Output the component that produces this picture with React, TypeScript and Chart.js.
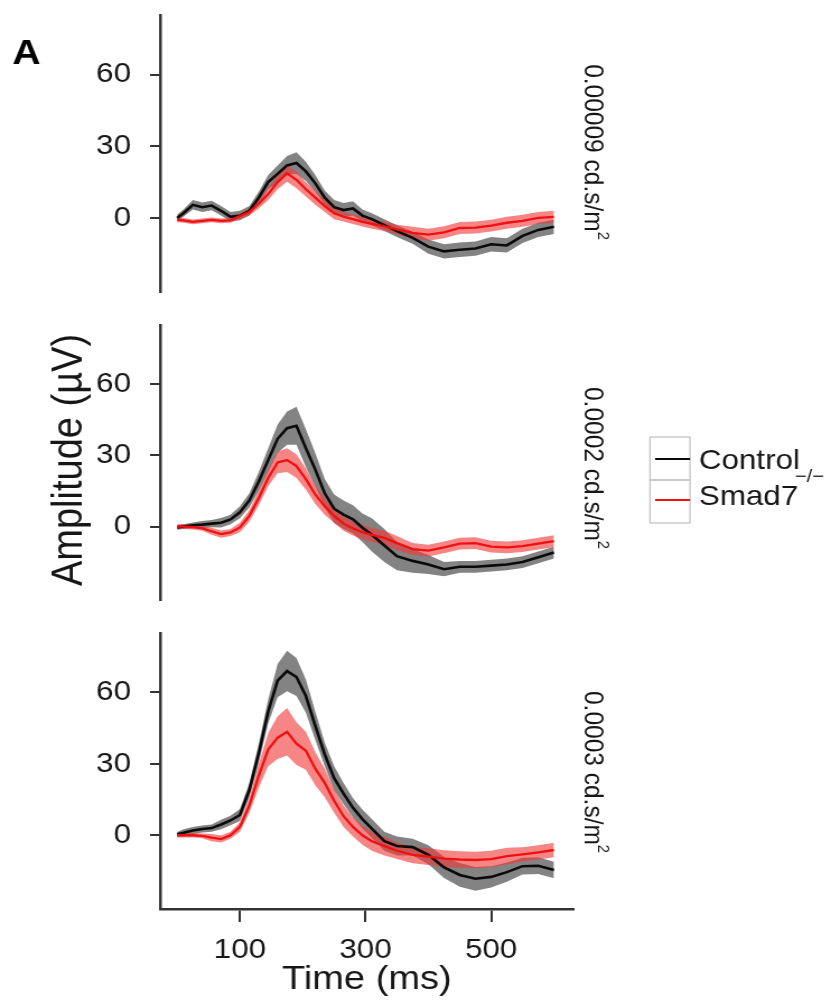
import React, { useEffect, useRef } from "react";
import { Chart, registerables } from "chart.js";

Chart.register(...registerables);

// ---------------- data ----------------
const times = [0, 10, 25, 40, 55, 70, 85, 100, 115, 130, 145, 160, 175, 190, 205, 220, 235, 250, 265, 280, 295, 310, 330, 350, 375, 400, 425, 450, 475, 500, 525, 550, 575, 600];

const ctrl1 = [0, 2, 5.5, 4.5, 5.2, 3, 0.5, 1, 3, 8.5, 15, 18.5, 22, 23, 19.5, 14.5, 8.5, 4.5, 3.3, 4, 1, -0.5, -3, -5.5, -8.3, -12, -14, -13.3, -12.8, -11, -11.5, -7.5, -5, -3.7];
const ctrl1Se = [1.5, 1.5, 2, 2, 2, 2, 2, 2, 2, 2.5, 3, 3.5, 4, 4.5, 4, 3.5, 3, 3, 3, 3, 2.5, 2.5, 2.5, 2.5, 2.5, 3, 3, 3, 3, 3, 3, 3, 3, 3];
const smad1 = [-0.8, -1, -1.6, -1.2, -0.8, -1.2, -1, 0.8, 2.5, 6, 10, 15, 18.7, 16, 12, 8.5, 5, 2, 0.5, -0.5, -1.6, -2.5, -3.5, -4.8, -6.2, -7, -6, -4.2, -4, -3.2, -2, -1.2, 0, 0.5];
const smad1Se = [1, 1, 1, 1, 1, 1, 1, 1.2, 1.5, 2, 2.5, 3, 3.5, 3.5, 3, 3, 2.5, 2.5, 2, 2, 2, 2, 2, 2, 2.5, 2.5, 2.5, 2.5, 2.5, 2.5, 2.5, 2.5, 2.5, 2.5];

const ctrl2 = [-0.4, 0, 0.5, 0.8, 1.2, 1.6, 3, 6, 11, 19, 28, 37, 41.5, 42.5, 33, 24, 14, 7.5, 5, 3, -0.5, -3.5, -8, -12.5, -14.5, -16, -18, -17, -17, -16.5, -16, -15, -13, -11];
const ctrl2Se = [1, 1, 1.2, 1.5, 1.5, 2, 2, 2.5, 3, 4, 5, 6, 7, 8, 8, 7, 6, 6, 6, 6, 6, 7, 7, 6, 5, 4, 3, 2.5, 2.5, 2.5, 2.5, 2.5, 2.5, 2.5];
const smad2 = [0, 0, -0.3, -0.8, -2, -3.2, -2.5, -0.4, 4.5, 12, 20.5, 27, 28, 25.5, 20, 13.5, 8.5, 4.5, 1.2, -0.8, -2.4, -3.5, -4.8, -7, -9.5, -10.2, -8.8, -7.2, -7, -8.5, -8.8, -8.3, -7.2, -6.2];
const smad2Se = [1, 1, 1, 1, 1.5, 1.5, 1.5, 2, 2.5, 3, 3.5, 4.5, 5, 5, 4.5, 4, 3.5, 3, 3, 3, 3, 3, 3, 3, 2.5, 2.5, 2.5, 2.5, 2.5, 2.5, 2.5, 2.5, 2.5, 2.5];

const ctrl3 = [0.4, 1, 2, 2.6, 3, 4.5, 6.2, 8.5, 19, 34.5, 52, 65, 69, 66.5, 58.5, 46, 34, 24, 17.5, 11.5, 6.8, 2.8, -2.5, -4.5, -5, -8.2, -13.5, -16.7, -18.3, -17.5, -15.5, -13, -12.8, -14.6];
const ctrl3Se = [1, 1.5, 1.5, 1.5, 1.5, 2, 2, 2.5, 3, 4, 5, 7, 8.5, 8, 7, 6, 5, 5, 4.5, 4, 4, 4, 4, 4, 3.5, 4, 4.5, 5, 5, 4.5, 4, 3.5, 3.5, 3.5];
const smad3 = [0, 0, 0, -0.3, -1, -1.6, 0, 3.5, 12.5, 25, 36, 41, 43.5, 38.5, 35.5, 28, 22, 14.5, 8, 3.5, 0, -2.5, -4.5, -6.5, -8.3, -9, -9.8, -10.2, -10.4, -10, -8.8, -8, -7.2, -6.2];
const smad3Se = [1, 1, 1, 1, 1.5, 1.5, 1.5, 2, 3, 5, 7, 9, 10, 9, 8, 7, 6, 5, 4.5, 4, 4, 4, 4, 3.5, 3.5, 3.5, 3.5, 3.5, 3.5, 3.5, 3.5, 3, 3, 3];

const yTicks = [0, 30, 60];
const xTicks = [100, 300, 500];
const seriesNames = ["Control", "Smad7"];
const seriesSup = "\u2212/\u2212";
const panelLabels = ["0.00009 cd.s/m", "0.0002 cd.s/m", "0.0003 cd.s/m"];
const panelLabelSup = "2";
const yTitle = "Amplitude (\u00b5V)";
const xTitle = "Time (ms)";
const figLetter = "A";

// ---------------- style / layout ----------------
const SX = 1.12; // horizontal stretch of the reference figure
const PAGE_W = 831;
const CANVAS_W = Math.round(PAGE_W / SX);
const FONT_FAMILY = '"Liberation Sans", Arial, Helvetica, sans-serif';
const TEXT = "#161616";
const AXIS = "#333333";
const CTRL_LINE = "#0a0a0a";
const CTRL_BAND = "rgba(100,100,100,0.8)";
const RED_LINE = "#f01010";
const RED_BAND = "rgba(240,60,60,0.62)";

const font = (size: number, weight = "normal") => `${weight} ${size}px ${FONT_FAMILY}`;

const panels = [
  { top: 0, height: 310, padTop: 15, padBottom: 18, showX: false, ctrl: ctrl1, ctrlSe: ctrl1Se, red: smad1, redSe: smad1Se, labelY: 152 },
  { top: 310, height: 310, padTop: 15, padBottom: 20, showX: false, ctrl: ctrl2, ctrlSe: ctrl2Se, red: smad2, redSe: smad2Se, labelY: 158 },
  { top: 620, height: 383, padTop: 13, padBottom: 0, showX: true, ctrl: ctrl3, ctrlSe: ctrl3Se, red: smad3, redSe: smad3Se, labelY: 152 },
];

function series(vals: number[], se: number[] | null, sign: number) {
  return times.map((t, i) => ({ x: t, y: vals[i] + (se ? sign * se[i] : 0) }));
}

function drawRotatedLabel(ctx: CanvasRenderingContext2D, text: string, sup: string, cx: number, cy: number, size: number) {
  ctx.save();
  ctx.translate(cx, cy);
  ctx.rotate(Math.PI / 2);
  ctx.font = font(size);
  const w = ctx.measureText(text).width;
  ctx.font = font(size * 0.6);
  const ws = ctx.measureText(sup).width;
  const total = w + ws;
  ctx.fillStyle = TEXT;
  ctx.textAlign = "left";
  ctx.textBaseline = "middle";
  ctx.font = font(size);
  ctx.fillText(text, -total / 2, 0);
  ctx.font = font(size * 0.6);
  ctx.fillText(sup, -total / 2 + w, -9);
  ctx.restore();
}

function makeConfig(p: (typeof panels)[number], idx: number): any {
  const extraText = {
    id: "extraText" + idx,
    afterDraw(chart: any) {
      const ctx: CanvasRenderingContext2D = chart.ctx;
      const area = chart.chartArea;
      drawRotatedLabel(ctx, panelLabels[idx], panelLabelSup, 528.6, p.labelY, 24.5);
      if (idx === 0) {
        ctx.save();
        ctx.fillStyle = "#000";
        ctx.font = font(35, "bold");
        ctx.textAlign = "left";
        ctx.textBaseline = "alphabetic";
        ctx.fillText(figLetter, 11, 64);
        ctx.restore();
      }
      if (idx === 1) {
        // y title
        ctx.save();
        ctx.translate(73, 150);
        ctx.rotate(-Math.PI / 2);
        ctx.fillStyle = TEXT;
        ctx.font = font(38);
        ctx.textAlign = "center";
        ctx.textBaseline = "alphabetic";
        ctx.fillText(yTitle, 0, 0);
        ctx.restore();
        // legend
        ctx.save();
        const bx = 580.4, bw = 35.7, by = 127, bh = 43;
        ctx.strokeStyle = "#c4c4c4";
        ctx.lineWidth = 1.3;
        ctx.strokeRect(bx, by, bw, bh);
        ctx.strokeRect(bx, by + bh, bw, bh);
        ctx.lineWidth = 2.2;
        ctx.strokeStyle = CTRL_LINE;
        ctx.beginPath();
        ctx.moveTo(bx + 4.5, 149);
        ctx.lineTo(bx + bw, 149);
        ctx.stroke();
        ctx.strokeStyle = RED_LINE;
        ctx.beginPath();
        ctx.moveTo(bx + 4.5, 190);
        ctx.lineTo(bx + bw, 190);
        ctx.stroke();
        ctx.fillStyle = TEXT;
        ctx.textAlign = "left";
        ctx.textBaseline = "middle";
        ctx.font = font(28);
        ctx.fillText(seriesNames[0], 624, 151);
        ctx.fillText(seriesNames[1], 624, 187);
        const w = ctx.measureText(seriesNames[1]).width;
        ctx.font = font(18);
        ctx.fillText(seriesSup, 624 + w - 3, 167);
        ctx.restore();
      }
      if (idx === 2) {
        ctx.save();
        ctx.fillStyle = TEXT;
        ctx.font = font(34);
        ctx.textAlign = "center";
        ctx.textBaseline = "middle";
        ctx.fillText(xTitle, (area.left + area.right) / 2, 360);
        ctx.restore();
      }
    },
  };

  const common = { pointRadius: 0, pointHoverRadius: 0, tension: 0 };

  return {
    type: "line",
    data: {
      datasets: [
        { ...common, data: series(p.ctrl, p.ctrlSe, -1), borderColor: "rgba(0,0,0,0)", borderWidth: 0, backgroundColor: CTRL_BAND, fill: false, order: 4 },
        { ...common, data: series(p.ctrl, p.ctrlSe, 1), borderColor: "rgba(0,0,0,0)", borderWidth: 0, backgroundColor: CTRL_BAND, fill: "-1", order: 4 },
        { ...common, data: series(p.red, p.redSe, -1), borderColor: "rgba(0,0,0,0)", borderWidth: 0, backgroundColor: RED_BAND, fill: false, order: 3 },
        { ...common, data: series(p.red, p.redSe, 1), borderColor: "rgba(0,0,0,0)", borderWidth: 0, backgroundColor: RED_BAND, fill: "-1", order: 3 },
        { ...common, label: seriesNames[0], data: series(p.ctrl, null, 0), borderColor: CTRL_LINE, borderWidth: 2.6, fill: false, order: 2 },
        { ...common, label: seriesNames[1], data: series(p.red, null, 0), borderColor: RED_LINE, borderWidth: 2.3, fill: false, order: 1 },
      ],
    },
    options: {
      responsive: false,
      maintainAspectRatio: false,
      animation: false,
      events: [],
      layout: { padding: { top: p.padTop, bottom: p.padBottom, left: 0, right: 230 } },
      plugins: { legend: { display: false }, tooltip: { enabled: false }, title: { display: false } },
      scales: {
        x: {
          type: "linear",
          min: -27,
          max: 631,
          display: p.showX,
          afterBuildTicks: (s: any) => {
            s.ticks = xTicks.map((v) => ({ value: v }));
          },
          afterFit: (s: any) => {
            if (p.showX) s.height = 94;
            s.paddingLeft = 0;
            s.paddingRight = 0;
          },
          grid: { display: true, drawOnChartArea: false, drawTicks: true, tickLength: 13, color: AXIS, lineWidth: 2 },
          border: { display: true, color: AXIS, width: 2.5 },
          ticks: { color: TEXT, font: { family: FONT_FAMILY, size: 28 }, padding: 11, maxRotation: 0, autoSkip: false },
        },
        y: {
          type: "linear",
          min: -31,
          max: 85,
          afterBuildTicks: (s: any) => {
            s.ticks = yTicks.map((v) => ({ value: v }));
          },
          afterFit: (s: any) => {
            s.width = 143;
            s.paddingTop = 0;
            s.paddingBottom = 0;
          },
          grid: { display: true, drawOnChartArea: false, drawTicks: true, tickLength: 9, color: AXIS, lineWidth: 2 },
          border: { display: true, color: AXIS, width: 2.5 },
          ticks: { color: TEXT, font: { family: FONT_FAMILY, size: 28 }, padding: 17, autoSkip: false },
        },
      },
    },
    plugins: [extraText],
  };
}

export default function App() {
  const r0 = useRef<HTMLCanvasElement>(null);
  const r1 = useRef<HTMLCanvasElement>(null);
  const r2 = useRef<HTMLCanvasElement>(null);
  const refs = [r0, r1, r2];

  useEffect(() => {
    document.body.style.margin = "0";
    const charts = panels.map((p, i) => new Chart(refs[i].current as HTMLCanvasElement, makeConfig(p, i)));
    return () => charts.forEach((c) => c.destroy());
  }, []);

  return (
    <div style={{ position: "relative", width: PAGE_W, height: 1003, overflow: "hidden", background: "#fff" }}>
      {panels.map((p, i) => (
        <canvas
          key={i}
          ref={refs[i]}
          width={CANVAS_W}
          height={p.height}
          style={{ position: "absolute", left: 0, top: p.top, width: PAGE_W + "px", height: p.height + "px" }}
        />
      ))}
    </div>
  );
}
